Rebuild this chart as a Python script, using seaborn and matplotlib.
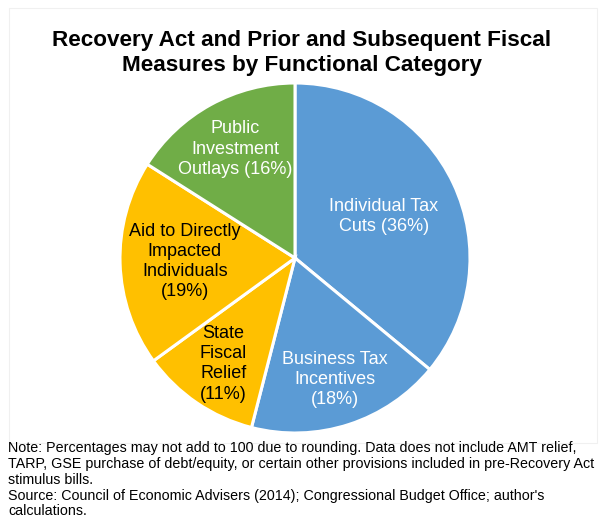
import matplotlib
matplotlib.use("Agg")
import numpy as np
import matplotlib.pyplot as plt
import seaborn as sns
from matplotlib.patches import Rectangle

sns.set_theme(style="white")
plt.rcParams["font.family"] = ["Liberation Sans", "DejaVu Sans"]

# Shares of fiscal measures by functional category (percent)
categories = [
    "Individual Tax\nCuts",
    "Business Tax\nIncentives",
    "State\nFiscal\nRelief",
    "Aid to Directly\nImpacted\nIndividuals",
    "Public\nInvestment\nOutlays",
]
shares = [36, 18, 11, 19, 16]
label_fmt = ["{} ({}%)", "{}\n({}%)", "{}\n({}%)", "{}\n({}%)", "{} ({}%)"]

colors = ["#5B9BD5", "#5B9BD5", "#FFC000", "#FFC000", "#70AD47"]
text_colors = ["white", "white", "black", "black", "white"]
label_radius = [0.56, 0.73, 0.73, 0.63, 0.71]

W, H = 605, 529
fig = plt.figure(figsize=(W / 100, H / 100), dpi=100)

# light frame around the chart area
fig.patches.append(Rectangle((9 / W, 1 - 443 / H), (597 - 9) / W, (443 - 8) / H,
                             transform=fig.transFigure, fill=False,
                             edgecolor="#f0f0f0", linewidth=0.8))

cx, cy, r = 295, 258, 175
ax = fig.add_axes([(cx - r) / W, 1 - (cy + r) / H, 2 * r / W, 2 * r / H])
wedges, _ = ax.pie(shares, colors=colors, startangle=90, counterclock=False,
                   radius=1.0, wedgeprops=dict(edgecolor="white", linewidth=2.2))
ax.set_xlim(-1, 1)
ax.set_ylim(-1, 1)
ax.set_aspect("equal")
ax.axis("off")

for w, cat, v, fmt, tc, lr in zip(wedges, categories, shares, label_fmt,
                                  text_colors, label_radius):
    mid = np.deg2rad((w.theta1 + w.theta2) / 2)
    ax.text(lr * np.cos(mid), lr * np.sin(mid), fmt.format(cat, v),
            ha="center", va="center", color=tc, fontsize=13,
            linespacing=1.25)

fig.text(302 / W, 1 - 53 / H,
         "Recovery Act and Prior and Subsequent Fiscal\nMeasures by Functional Category",
         ha="center", va="center", fontsize=16.2, fontweight="bold",
         color="black", linespacing=1.22)

note = ("Note: Percentages may not add to 100 due to rounding. Data does not include AMT relief,\n"
        "TARP, GSE purchase of debt/equity, or certain other provisions included in pre-Recovery Act\n"
        "stimulus bills.\n"
        "Source: Council of Economic Advisers (2014); Congressional Budget Office; author's\n"
        "calculations.")
fig.text(8 / W, 1 - 441 / H, note, ha="left", va="top", fontsize=10.3,
         color="black", linespacing=1.17)

fig.savefig("out.png", dpi=100, facecolor="white")
